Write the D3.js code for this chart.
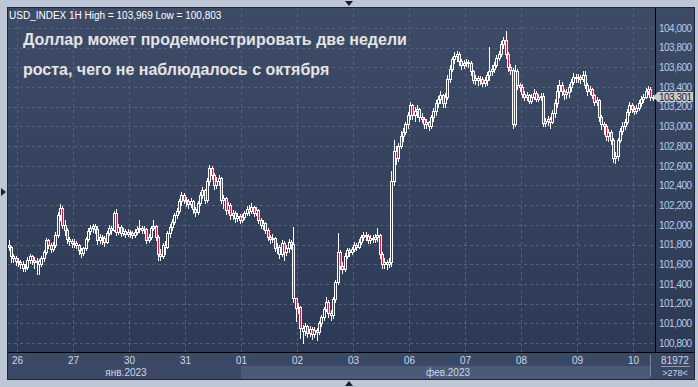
<!DOCTYPE html>
<html>
<head>
<meta charset="utf-8">
<script src="https://cdn.jsdelivr.net/npm/d3@7"></script>
<style>
  body { margin: 0; background: #bcc6d4; }
  svg { display: block; font-family: Arial, "Liberation Sans", sans-serif; }
</style>
</head>
<body>
<div id="canvas"></div>
<script>
// hourly USD_INDEX candles, 25 Jan (tail) .. 10 Feb 2023
var firstOpen = 101.80;
var closes = [
  101.78,101.68,101.66,101.63,
  101.62,101.60,101.56,101.57,101.64,101.68,101.64,101.62,101.63,101.60,101.66,101.72,101.85,101.80,101.75,101.80,101.90,102.10,102.17,102.00,101.95,101.86,101.84,101.82,
  101.82,101.80,101.74,101.71,101.76,101.86,101.94,101.97,101.99,101.96,101.85,101.88,101.87,101.83,101.92,101.97,101.95,102.12,101.93,101.98,101.92,101.94,101.91,101.93,
  101.92,101.90,101.93,101.96,101.97,101.95,101.96,101.85,101.88,101.97,101.99,101.88,101.70,101.68,101.80,101.78,101.92,101.98,102.03,102.10,102.14,102.24,102.30,102.25,
  102.24,102.21,102.24,102.16,102.13,102.22,102.30,102.35,102.25,102.45,102.58,102.51,102.40,102.45,102.48,102.25,102.27,102.15,102.20,102.10,102.12,102.07,102.09,102.05,
  102.08,102.12,102.16,102.14,102.18,102.12,102.15,102.05,102.00,102.02,101.95,101.88,101.86,101.87,101.76,101.78,101.70,101.82,101.72,101.76,101.83,101.81,101.26,101.16,
  101.17,100.95,100.92,100.97,100.90,100.94,100.89,100.93,100.91,101.00,101.06,101.15,101.22,101.10,101.08,101.25,101.42,101.72,101.58,101.55,101.68,101.74,101.72,101.75,
  101.80,101.78,101.83,101.88,101.90,101.89,101.85,101.87,101.86,101.88,101.90,101.70,101.60,101.62,101.60,101.62,102.45,102.75,102.68,102.80,102.90,102.94,103.02,103.12,
  103.22,103.12,103.16,103.18,103.10,103.08,103.02,103.04,103.00,103.10,103.16,103.24,103.28,103.32,103.24,103.30,103.48,103.58,103.68,103.72,103.74,103.66,103.62,103.64,
  103.65,103.64,103.56,103.47,103.49,103.47,103.48,103.44,103.47,103.52,103.56,103.58,103.62,103.70,103.74,103.84,103.88,103.74,103.60,103.57,103.02,103.56,103.42,103.40,
  103.33,103.30,103.32,103.26,103.30,103.34,103.28,103.30,103.31,103.03,103.06,103.08,103.05,103.14,103.24,103.36,103.42,103.36,103.33,103.35,103.40,103.45,103.50,103.49,
  103.50,103.48,103.52,103.42,103.36,103.38,103.32,103.25,103.27,103.10,103.02,103.00,102.90,102.94,102.86,102.68,102.70,102.86,102.95,103.00,103.05,103.15,103.22,103.18,
  103.16,103.19,103.24,103.28,103.30,103.36,103.38,103.30,103.30
];
var highs = [
  101.85,101.79,101.70,101.68,
  101.66,101.64,101.63,101.60,101.67,101.70,101.69,101.67,101.66,101.65,101.68,101.74,101.87,101.86,101.82,101.83,101.93,102.13,102.21,102.19,102.05,101.97,101.88,101.86,
  101.86,101.84,101.81,101.76,101.78,101.88,101.97,102.00,102.01,102.01,101.99,101.91,101.90,101.89,101.94,102.00,101.99,102.14,102.16,102.01,102.00,101.97,101.96,101.96,
  101.95,101.94,101.96,101.99,102.05,101.99,101.99,101.97,101.91,101.99,102.05,102.00,101.90,101.75,101.82,101.84,101.94,102.01,102.06,102.12,102.17,102.26,102.33,102.32,
  102.28,102.26,102.27,102.25,102.18,102.24,102.33,102.38,102.36,102.48,102.61,102.60,102.53,102.49,102.51,102.49,102.30,102.28,102.23,102.22,102.15,102.14,102.12,102.11,
  102.11,102.14,102.19,102.20,102.22,102.19,102.18,102.16,102.07,102.05,102.03,101.97,101.90,101.91,101.88,101.82,101.80,101.85,101.84,101.80,101.86,101.85,101.98,101.25,
  101.21,101.18,100.98,101.00,100.98,100.97,100.96,100.96,100.95,101.02,101.08,101.17,101.27,101.24,101.14,101.27,101.44,101.92,101.74,101.62,101.71,101.77,101.76,101.78,
  101.83,101.82,101.86,101.90,101.93,101.93,101.91,101.90,101.90,101.91,101.97,101.91,101.72,101.66,101.64,101.66,102.55,102.86,102.80,102.83,102.95,102.98,103.05,103.15,
  103.25,103.23,103.20,103.22,103.19,103.14,103.10,103.08,103.06,103.12,103.19,103.27,103.31,103.36,103.33,103.34,103.52,103.62,103.71,103.76,103.77,103.76,103.69,103.67,
  103.68,103.67,103.66,103.57,103.52,103.51,103.51,103.50,103.50,103.55,103.81,103.62,103.65,103.73,103.77,103.87,103.91,103.97,103.76,103.63,103.59,103.62,103.58,103.44,
  103.43,103.36,103.35,103.33,103.33,103.38,103.36,103.33,103.34,103.34,103.09,103.11,103.10,103.17,103.28,103.42,103.47,103.45,103.38,103.38,103.43,103.48,103.54,103.53,
  103.53,103.52,103.56,103.56,103.44,103.41,103.39,103.33,103.30,103.28,103.12,103.05,103.02,102.97,102.96,102.88,102.74,102.88,102.98,103.04,103.08,103.18,103.25,103.24,
  103.21,103.22,103.27,103.31,103.33,103.39,103.41,103.40,103.32
];
var lows = [
  101.74,101.62,101.62,101.59,
  101.58,101.56,101.53,101.53,101.55,101.61,101.60,101.56,101.50,101.50,101.58,101.63,101.70,101.76,101.72,101.73,101.78,101.88,102.05,101.97,101.90,101.82,101.80,101.78,
  101.78,101.76,101.70,101.67,101.69,101.74,101.84,101.91,101.93,101.92,101.81,101.82,101.81,101.79,101.82,101.90,101.91,101.94,101.90,101.91,101.89,101.90,101.88,101.89,
  101.88,101.87,101.88,101.91,101.93,101.92,101.92,101.82,101.83,101.86,101.95,101.85,101.64,101.64,101.66,101.70,101.76,101.88,101.95,102.01,102.07,102.12,102.20,102.22,
  102.19,102.17,102.18,102.12,102.09,102.11,102.20,102.27,102.22,102.23,102.40,102.47,102.36,102.37,102.41,102.22,102.17,102.11,102.12,102.06,102.06,102.03,102.04,102.02,
  102.03,102.06,102.10,102.10,102.12,102.09,102.10,102.02,101.97,101.96,101.92,101.85,101.82,101.83,101.73,101.71,101.66,101.68,101.64,101.69,101.72,101.75,101.22,101.02,
  101.10,100.85,100.80,100.88,100.86,100.87,100.84,100.86,100.83,100.89,100.97,101.03,101.12,101.06,101.03,101.05,101.22,101.40,101.55,101.51,101.53,101.66,101.68,101.70,
  101.73,101.74,101.76,101.81,101.85,101.85,101.82,101.82,101.83,101.83,101.84,101.66,101.56,101.56,101.55,101.57,101.58,102.40,102.62,102.65,102.78,102.85,102.92,102.98,
  103.08,103.08,103.06,103.10,103.06,103.04,102.98,102.98,102.96,102.98,103.06,103.12,103.20,103.24,103.20,103.20,103.28,103.45,103.56,103.64,103.66,103.62,103.58,103.59,
  103.61,103.60,103.52,103.44,103.43,103.42,103.43,103.41,103.41,103.42,103.47,103.52,103.55,103.60,103.67,103.72,103.80,103.70,103.56,103.53,102.98,103.00,103.38,103.36,
  103.30,103.27,103.27,103.24,103.24,103.28,103.26,103.26,103.27,103.00,103.00,103.01,102.98,103.03,103.10,103.20,103.30,103.32,103.28,103.29,103.30,103.36,103.43,103.45,
  103.45,103.44,103.46,103.39,103.32,103.33,103.29,103.22,103.22,103.06,102.97,102.92,102.86,102.85,102.82,102.64,102.63,102.66,102.84,102.92,102.97,103.02,103.12,103.15,
  103.13,103.14,103.17,103.21,103.25,103.29,103.33,103.27,103.27
];
var dayLabels = ['26','27','30','31','01','02','03','06','07','08','09','10'];
var dayStart = [4, 28, 52, 76, 100, 124, 148, 172, 196, 220, 244, 268]; // first candle of each day
var priceTicks = [100.8,101.0,101.2,101.4,101.6,101.8,102.0,102.2,102.4,102.6,102.8,103.0,103.2,103.4,103.6,103.8,104.0];
var lastPrice = 103.301;
var titleText = 'USD_INDEX 1H High = 103,969 Low = 100,803';
var headline = ['Доллар может продемонстрировать две недели', 'роста, чего не наблюдалось с октября'];

var W = 698, H = 387;
var m = {l:8, t:8, r:655, b:352};   // plot box edges
var font = 'Arial, "Liberation Sans", sans-serif';

var candles = closes.map(function(c, i){
  var o = i === 0 ? firstOpen : closes[i-1];
  return {i:i, o:o, c:c, h:Math.max(highs[i], o, c), l:Math.min(lows[i], o, c)};
});

var svg = d3.select('#canvas').append('svg')
  .attr('width', W).attr('height', H);

var defs = svg.append('defs');
var grad = defs.append('linearGradient').attr('id','bg')
  .attr('gradientUnits','userSpaceOnUse')
  .attr('x1',0).attr('y1',m.t).attr('x2',0).attr('y2',m.b);
grad.append('stop').attr('offset','0%').attr('stop-color','#3e4b67');
grad.append('stop').attr('offset','100%').attr('stop-color','#2d3a55');

// panel
svg.append('rect').attr('x',7.5).attr('y',7.5).attr('width',687).attr('height',372)
  .attr('fill','url(#bg)').attr('stroke','#1f2636');
// bottom axis strip
svg.append('rect').attr('x',8).attr('y',m.b).attr('width',686).attr('height',27).attr('fill','#3c4965');
svg.append('rect').attr('x',241).attr('y',366).attr('width',409).attr('height',13).attr('fill','#4b5a76');
svg.append('line').attr('x1',650.5).attr('x2',650.5).attr('y1',355).attr('y2',377).attr('stroke','#7b879b');

var x = d3.scaleLinear().domain([0, closes.length - 1]).range([8.8, 652.8]);
var y = d3.scaleLinear().domain([100.8, 104.0]).range([343, 28]);

// grid
var grid = svg.append('g').attr('stroke','#55627c').attr('stroke-dasharray','3,3');
grid.selectAll('line.h').data(priceTicks).enter().append('line').attr('class','h')
  .attr('x1', m.l).attr('x2', m.r)
  .attr('y1', function(d){ return Math.round(y(d)) + 0.5; })
  .attr('y2', function(d){ return Math.round(y(d)) + 0.5; });
grid.selectAll('line.v').data(dayStart).enter().append('line').attr('class','v')
  .attr('y1', m.t).attr('y2', m.b)
  .attr('x1', function(d){ return Math.round(x(d - 0.5)) + 0.5; })
  .attr('x2', function(d){ return Math.round(x(d - 0.5)) + 0.5; });

// titles
svg.append('text').attr('x',9).attr('y',18.5).attr('fill','#ffffff')
  .style('font-size','10px').text(titleText);
svg.selectAll('text.head').data(headline).enter().append('text').attr('class','head')
  .attr('x',23).attr('y', function(d,i){ return 45 + i*29.5; })
  .attr('fill','#e4e4e4').style('font-size','16px').style('font-weight','bold')
  .text(function(d){ return d; });

// candles
var cg = svg.append('g');
var cx = function(d){ return Math.round(x(d.i)); };
cg.selectAll('line.wick').data(candles).enter().append('line').attr('class','wick')
  .attr('x1', function(d){ return cx(d) + 0.5; })
  .attr('x2', function(d){ return cx(d) + 0.5; })
  .attr('y1', function(d){ return Math.round(y(d.h)); })
  .attr('y2', function(d){ return Math.round(y(d.l)) + 1; })
  .attr('stroke','#ffffff');
function bodyTop(d){ return Math.round(y(Math.max(d.o, d.c))); }
function bodyH(d){ return Math.max(2, Math.round(y(Math.min(d.o, d.c))) - bodyTop(d) + 1); }
cg.selectAll('rect.body').data(candles).enter().append('rect').attr('class','body')
  .attr('x', function(d){ return cx(d) - 1; })
  .attr('width', 3)
  .attr('y', bodyTop).attr('height', bodyH)
  .attr('fill','#ffffff');
cg.selectAll('rect.core').data(candles.filter(function(d){ return bodyH(d) > 2; })).enter()
  .append('rect').attr('class','core')
  .attr('x', cx).attr('width', 1)
  .attr('y', function(d){ return bodyTop(d) + 1; })
  .attr('height', function(d){ return bodyH(d) - 2; })
  .attr('fill', function(d){ return d.c < d.o ? '#e3173a' : 'url(#bg)'; });

// frame lines
svg.append('line').attr('x1',m.r + 0.5).attr('x2',m.r + 0.5).attr('y1',m.t).attr('y2',m.b).attr('stroke','#000');
svg.append('line').attr('x1',m.l).attr('x2',694).attr('y1',m.b + 0.5).attr('y2',m.b + 0.5).attr('stroke','#000');

// price axis
var axisY = d3.axisRight(y).tickValues(priceTicks).tickSize(0).tickPadding(4)
  .tickFormat(function(d){ return d3.format('.3f')(d).replace('.', ','); });
var ay = svg.append('g').attr('transform','translate(' + m.r + ',0)').call(axisY);
ay.select('.domain').remove();
ay.selectAll('text').attr('fill','#b3cdf0').style('font-size','10px')
  .style('letter-spacing','-0.5px').style('font-family', font);

// last price marker
var ly = Math.round(y(lastPrice));
svg.append('path')
  .attr('d','M653,' + ly + 'L658,' + (ly-5) + 'L693,' + (ly-5) + 'L693,' + (ly+5) + 'L658,' + (ly+5) + 'Z')
  .attr('fill','#cacaca');
svg.append('text').attr('x',659).attr('y',ly + 3.5).attr('fill','#1c2233')
  .style('font-size','10px').style('letter-spacing','-0.5px').text(d3.format('.3f')(lastPrice).replace('.', ','));

// date axis
var axisX = d3.axisBottom(x).tickValues(dayStart.map(function(d){ return d - 0.5; })).tickSize(0).tickPadding(5)
  .tickFormat(function(d, i){ return dayLabels[i]; });
var ax = svg.append('g').attr('transform','translate(0,' + m.b + ')').call(axisX);
ax.select('.domain').remove();
ax.selectAll('text').attr('fill','#c8d7ec').style('font-size','10px').style('font-family', font);
svg.append('text').attr('x',126).attr('y',376).attr('text-anchor','middle').attr('fill','#c8d7ec')
  .style('font-size','10px').text('янв.2023');
svg.append('text').attr('x',448).attr('y',376).attr('text-anchor','middle').attr('fill','#c8d7ec')
  .style('font-size','10px').text('фев.2023');

// corner cell
svg.append('text').attr('x',675).attr('y',364).attr('text-anchor','middle').attr('fill','#c8d7ec')
  .style('font-size','10px').text('81972');
svg.append('line').attr('x1',661).attr('x2',690).attr('y1',366.5).attr('y2',366.5).attr('stroke','#8a96aa');
svg.append('text').attr('x',675).attr('y',376).attr('text-anchor','middle').attr('fill','#c8d7ec')
  .style('font-size','9px').text('>278<');

// scroll markers
svg.append('path').attr('d','M345,1L353,1L349,6Z').attr('fill','#1a1f2b');
svg.append('path').attr('d','M345,386L353,386L349,381Z').attr('fill','#1a1f2b');
svg.append('path').attr('d','M1,188L6,192L1,196Z').attr('fill','#1a1f2b');
</script>
</body>
</html>
